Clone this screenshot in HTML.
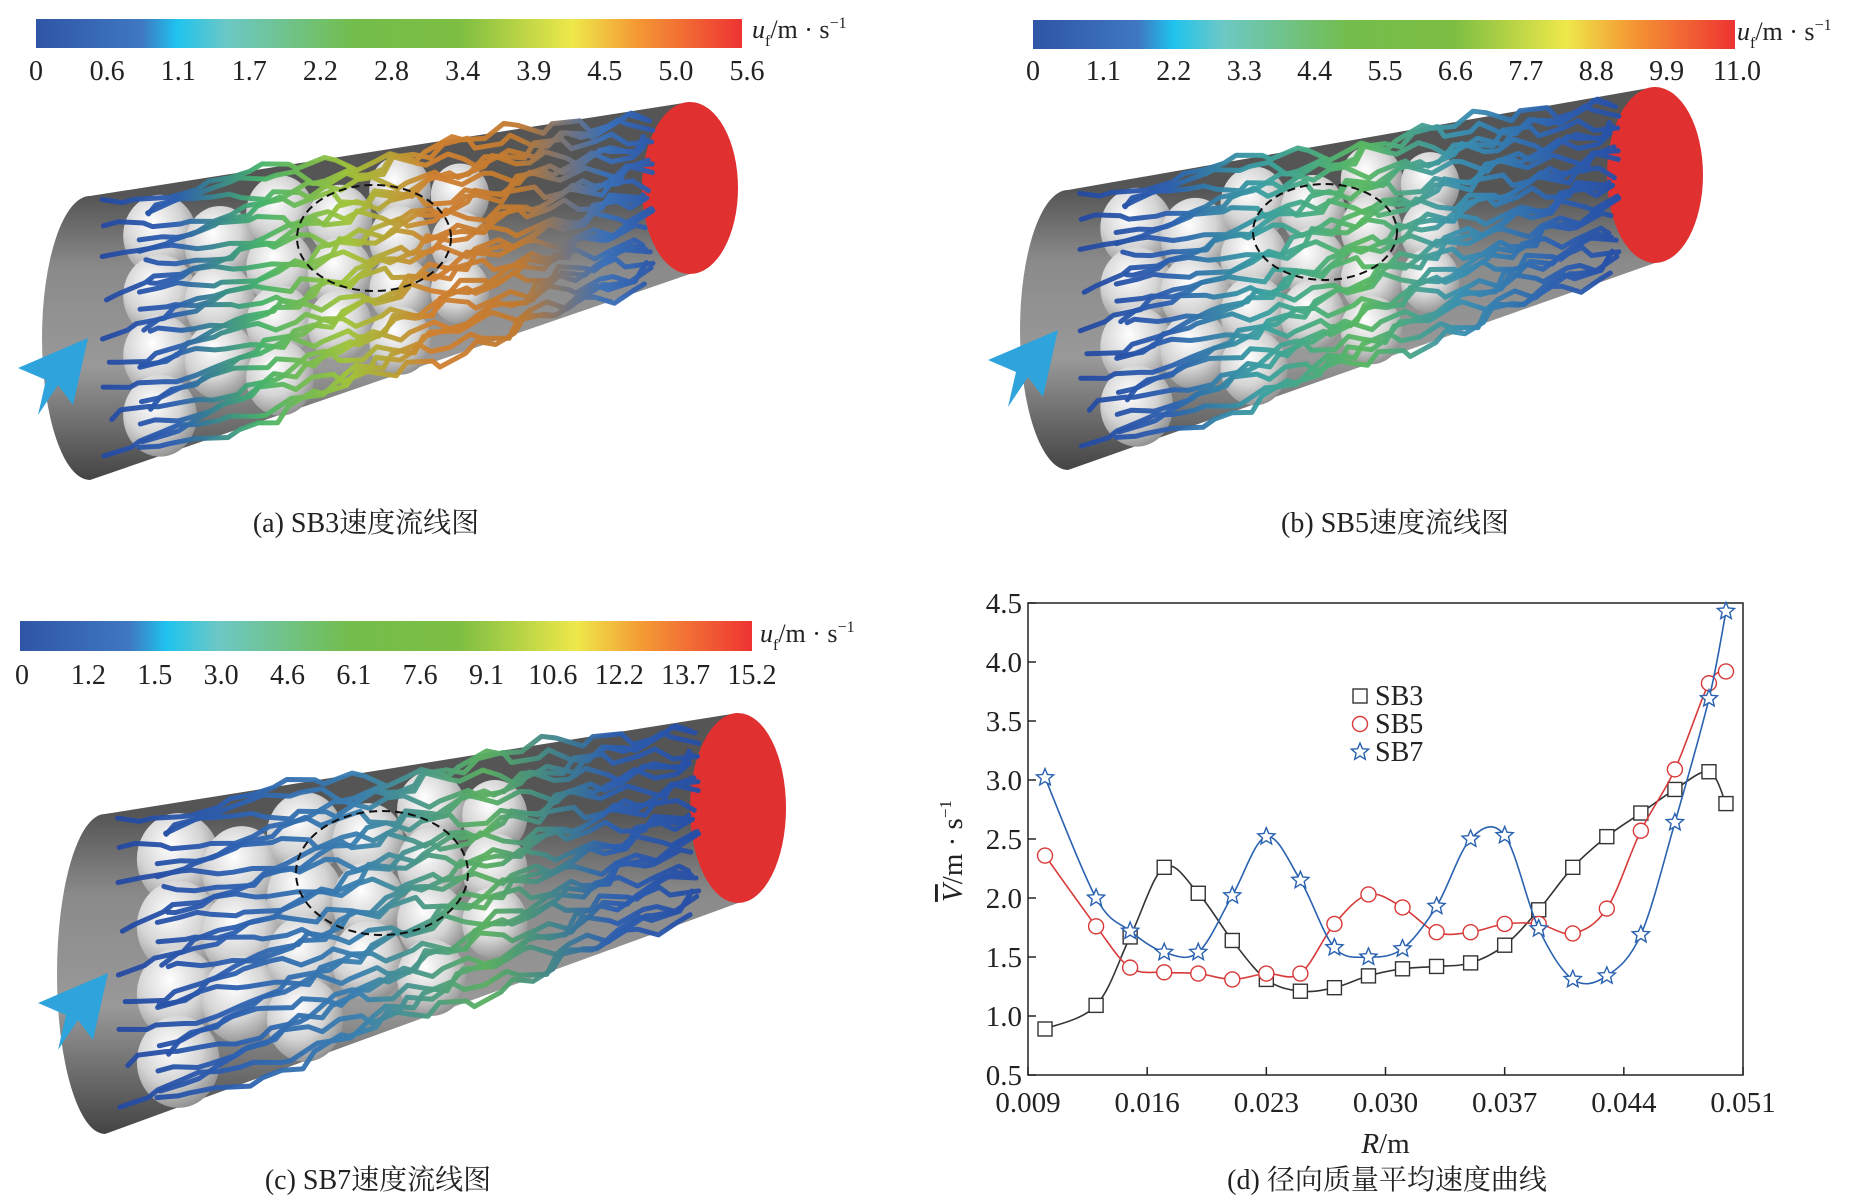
<!DOCTYPE html>
<html><head><meta charset="utf-8">
<style>
html,body{margin:0;padding:0;background:#fff;}
svg{display:block;}
text{font-family:"Liberation Serif","Noto Serif CJK SC","Noto Sans CJK SC",serif;fill:#222;}
</style></head>
<body>
<svg id="fig" width="1862" height="1200" viewBox="0 0 1862 1200" xmlns="http://www.w3.org/2000/svg">
<defs>
<linearGradient id="cbA" x1="0" x2="1" y1="0" y2="0">
<stop offset="0" stop-color="#2f55a6"/><stop offset="0.15" stop-color="#3f78c2"/><stop offset="0.2" stop-color="#1fc3ee"/><stop offset="0.27" stop-color="#6cc8c5"/><stop offset="0.45" stop-color="#73bd4c"/><stop offset="0.6" stop-color="#7dbe42"/><stop offset="0.76" stop-color="#eee84a"/><stop offset="0.85" stop-color="#f49a34"/><stop offset="1" stop-color="#ee3333"/>
</linearGradient>
<radialGradient id="sph" cx="0.4" cy="0.35" r="0.7">
<stop offset="0" stop-color="#ffffff"/><stop offset="0.55" stop-color="#d4d4d4"/><stop offset="1" stop-color="#8a8a8a"/>
</radialGradient>
</defs>

<g>
<rect x="36" y="19" width="706" height="29" fill="url(#cbA)"/>
<text x="752" y="38" font-size="26" font-style="italic">u<tspan font-size="16" dy="8" font-style="normal">f</tspan><tspan dy="-8" font-style="normal">/m · s</tspan><tspan font-size="16" dy="-10" font-style="normal">−1</tspan></text>
</g>
<g>
<rect x="1033" y="20" width="702" height="29" fill="url(#cbA)"/>
<text x="1737" y="40" font-size="26" font-style="italic">u<tspan font-size="16" dy="8" font-style="normal">f</tspan><tspan dy="-8" font-style="normal">/m · s</tspan><tspan font-size="16" dy="-10" font-style="normal">−1</tspan></text>
</g>
<g>
<rect x="20" y="621" width="732" height="30" fill="url(#cbA)"/>
<text x="760" y="642" font-size="26" font-style="italic">u<tspan font-size="16" dy="8" font-style="normal">f</tspan><tspan dy="-8" font-style="normal">/m · s</tspan><tspan font-size="16" dy="-10" font-style="normal">−1</tspan></text>
</g>
<g id="cbLabels"></g>
<g id="cyls"></g>

<text x="366" y="532" font-size="28" text-anchor="middle">(a) SB3速度流线图</text>
<text x="1395" y="532" font-size="28" text-anchor="middle">(b) SB5速度流线图</text>
<text x="378" y="1189" font-size="28" text-anchor="middle">(c) SB7速度流线图</text>
<text x="1387" y="1189" font-size="28" text-anchor="middle">(d) 径向质量平均速度曲线</text>

<g id="chart"></g>
</svg>
<script>
// ---- chart data ----
const radiusValues = [0.010,0.013,0.015,0.017,0.019,0.021,0.023,0.025,0.027,0.029,0.031,0.033,0.035,0.037,0.039,0.041,0.043,0.045,0.047,0.049,0.050];
const sb3Values = [0.89,1.09,1.67,2.26,2.04,1.64,1.31,1.21,1.24,1.34,1.40,1.42,1.45,1.60,1.90,2.26,2.52,2.72,2.92,3.07,2.80];
const sb5Values = [2.36,1.76,1.41,1.37,1.36,1.31,1.36,1.36,1.78,2.03,1.92,1.71,1.71,1.78,1.78,1.70,1.91,2.57,3.09,3.82,3.92];
const sb7Values = [3.02,2.00,1.72,1.54,1.54,2.02,2.52,2.15,1.58,1.50,1.57,1.93,2.50,2.53,1.74,1.31,1.34,1.69,2.64,3.69,4.43];
const xTickLabels = ["0.009","0.016","0.023","0.030","0.037","0.044","0.051"];
const yTickLabels = ["0.5","1.0","1.5","2.0","2.5","3.0","3.5","4.0","4.5"];
const cbLabelsA = ["0","0.6","1.1","1.7","2.2","2.8","3.4","3.9","4.5","5.0","5.6"];
const cbLabelsB = ["0","1.1","2.2","3.3","4.4","5.5","6.6","7.7","8.8","9.9","11.0"];
const cbLabelsC = ["0","1.2","1.5","3.0","4.6","6.1","7.6","9.1","10.6","12.2","13.7","15.2"];

const NS = "http://www.w3.org/2000/svg";
function mk(tag, attrs, parent){const e=document.createElementNS(NS,tag);for(const k in attrs)e.setAttribute(k,attrs[k]);if(parent)parent.appendChild(e);return e;}

const cbg = document.getElementById('cbLabels');
function cbl(labels, x0, x1, y, name){
  labels.forEach((l,i)=>{
    const t = mk('text',{x: x0+(x1-x0)*i/(labels.length-1), y:y, 'font-size':28, 'text-anchor':'middle'}, cbg);
    
    
    t.textContent = l;
  });
}
cbl(cbLabelsA, 36, 747, 80, 'colorbar-a-label');
cbl(cbLabelsB, 1033, 1737, 80, 'colorbar-b-label');
cbl(cbLabelsC, 22, 752, 684, 'colorbar-c-label');

// ---- cylinders (decorative illustrations) ----
const cyls = document.getElementById('cyls');
function cylinder(name, L, R, cols, dash, arrow){
  const g = mk('g',{},cyls);
  
  
  const rx = 48;
  const bg=mk('linearGradient',{id:name+'-body',gradientUnits:'userSpaceOnUse',x1:0,x2:0,y1:L.y-L.ry,y2:L.y+L.ry},g);
  [['0','#555'],['0.25','#8a8a8a'],['0.6','#999'],['1','#444']].forEach(s=>mk('stop',{offset:s[0],'stop-color':s[1]},bg));
  mk('path',{d:`M${R.x},${R.y-R.ry} L${L.x},${L.y-L.ry} A${rx},${L.ry} 0 0 0 ${L.x},${L.y+L.ry} L${R.x},${R.y+R.ry} Z`, fill:`url(#${name}-body)`}, g);
  mk('ellipse',{cx:R.x, cy:R.y, rx:rx, ry:R.ry, fill:'#e03030'}, g);
  const lerp=(a,b,t)=>a+(b-a)*t;
  for(let i=0;i<6;i++){for(let j=0;j<4;j++){
    const t=0.1+i*0.1, s=0.18+j*0.22+((i%2)*0.08);
    if(s>0.9) continue;
    const cx=lerp(L.x,R.x,t)+10, top=lerp(L.y-L.ry,R.y-R.ry,t), bot=lerp(L.y+L.ry,R.y+R.ry,t);
    const r=(bot-top)*0.15;
    mk('ellipse',{cx:cx, cy:lerp(top,bot,s), rx:r*0.9, ry:r, fill:'url(#sph)'}, g);
  }}
  const N=26;
  for(let k=0;k<N;k++){
    const s=(k+0.5)/N;
    let d='';
    const steps=30;
    const t0=0.02+0.08*Math.abs(Math.sin(k*2.1));
    for(let m=0;m<=steps;m++){
      const t=t0+(0.93-t0)*m/steps;
      const x=lerp(L.x,R.x,t)+Math.sin(m*2.7+k)*5;
      const top=lerp(L.y-L.ry,R.y-R.ry,t), bot=lerp(L.y+L.ry,R.y+R.ry,t);
      const y=lerp(top,bot,s+0.03*Math.sin(m*0.5+k*1.7))+Math.sin(m*1.9+k*0.7)*7*(t>0.3?1:0.3);
      d+=(m?'L':'M')+x.toFixed(1)+','+y.toFixed(1);
    }
    const gid=name+'-g'+k;
    const lg=mk('linearGradient',{id:gid,gradientUnits:'userSpaceOnUse',x1:L.x,x2:R.x,y1:0,y2:0},g);
    cols.forEach((c,i)=>mk('stop',{offset:i/(cols.length-1),'stop-color':c},lg));
    mk('path',{d:d, fill:'none', stroke:`url(#${gid})`, 'stroke-width':5, 'stroke-linecap':'round','stroke-linejoin':'round', opacity:0.95}, g);
  }
  mk('ellipse',{cx:dash.x, cy:dash.y, rx:dash.rx, ry:dash.ry, fill:'none', stroke:'#111', 'stroke-width':2, 'stroke-dasharray':'8,5'}, g);
  const a=mk('path',{d:`M${arrow.x},${arrow.y+8} L${arrow.x+70},${arrow.y-22} L${arrow.x+55},${arrow.y+45} L${arrow.x+40},${arrow.y+25} L${arrow.x+20},${arrow.y+55} L${arrow.x+28},${arrow.y+20} Z`, fill:'#2ea3dc'}, g);
  
  
}
cylinder('streamline-sb3', {x:90,y:338,ry:142}, {x:690,y:188,ry:86}, ['#2346a0','#2d5fb0','#46b36a','#a0c43a','#d08030','#c07a30','#3a70b8','#2346a0'], {x:374,y:238,rx:77,ry:53}, {x:18,y:360});
cylinder('streamline-sb5', {x:1068,y:330,ry:140}, {x:1655,y:175,ry:88}, ['#2346a0','#2d5fb0','#3aa0a0','#58b860','#3a90b0','#2d5fb0','#2346a0'], {x:1325,y:232,rx:72,ry:48}, {x:988,y:352});
cylinder('streamline-sb7', {x:105,y:974,ry:160}, {x:738,y:808,ry:95}, ['#2346a0','#2d5fb0','#3a80b0','#5ab060','#2d5fb0','#2346a0'], {x:382,y:873,rx:86,ry:62}, {x:38,y:995});

// ---- line chart ----
const chart = document.getElementById('chart');
const PL=1028, PR=1743, PT=603, PB=1075;
const xMin=0.009, xMax=0.051, yMin=0.5, yMax=4.5;
const xS=v=>PL+(v-xMin)/(xMax-xMin)*(PR-PL);
const yS=v=>PB-(v-yMin)/(yMax-yMin)*(PB-PT);
const frame=mk('rect',{x:PL,y:PT,width:PR-PL,height:PB-PT,fill:'none',stroke:'#222','stroke-width':1.5},chart);


xTickLabels.forEach(l=>{
  const x=xS(parseFloat(l));
  const tk=mk('line',{x1:x,x2:x,y1:PB,y2:PB-8,stroke:'#222','stroke-width':1.5},chart);
  
  
  const t=mk('text',{x:x,y:PB+37,'font-size':29,'text-anchor':'middle'},chart);
  
  
  t.textContent=l;
});
yTickLabels.forEach(l=>{
  const y=yS(parseFloat(l));
  const tk=mk('line',{x1:PL,x2:PL+8,y1:y,y2:y,stroke:'#222','stroke-width':1.5},chart);
  
  
  const t=mk('text',{x:PL-6,y:y+10,'font-size':29,'text-anchor':'end'},chart);
  
  
  t.textContent=l;
});
const xt=mk('text',{x:(PL+PR)/2,y:1153,'font-size':29,'text-anchor':'middle'},chart);


xt.innerHTML='<tspan font-style="italic">R</tspan>/m';
const yt=mk('text',{x:0,y:0,'font-size':29,'text-anchor':'middle',transform:`translate(962,${(PT+PB)/2+12}) rotate(-90)`},chart);


yt.innerHTML='<tspan font-style="italic" text-decoration="overline">V</tspan>/m · s<tspan font-size="17" dy="-11">−1</tspan>';

function spline(xs, ys){
  const p=xs.map((x,i)=>[xS(x),yS(ys[i])]);
  let d=`M${p[0][0]},${p[0][1]}`;
  for(let i=0;i<p.length-1;i++){
    const p0=p[i-1]||p[i], p1=p[i], p2=p[i+1], p3=p[i+2]||p[i+1];
    const c1=[p1[0]+(p2[0]-p0[0])/6, p1[1]+(p2[1]-p0[1])/6];
    const c2=[p2[0]-(p3[0]-p1[0])/6, p2[1]-(p3[1]-p1[1])/6];
    d+=`C${c1[0].toFixed(1)},${c1[1].toFixed(1)} ${c2[0].toFixed(1)},${c2[1].toFixed(1)} ${p2[0].toFixed(1)},${p2[1].toFixed(1)}`;
  }
  return d;
}
function star(cx,cy,r){
  let d='';
  for(let i=0;i<10;i++){const a=-Math.PI/2+i*Math.PI/5, rr=i%2?r*0.45:r;d+=(i?'L':'M')+(cx+rr*Math.cos(a)).toFixed(1)+','+(cy+rr*Math.sin(a)).toFixed(1);}
  return d+'Z';
}
function marker(g,kind,x,y,color){
  if(kind==='sq') return mk('rect',{x:x-7,y:y-7,width:14,height:14,fill:'#fff',stroke:color,'stroke-width':1.4},g);
  if(kind==='ci') return mk('circle',{cx:x,cy:y,r:7.5,fill:'#fff',stroke:color,'stroke-width':1.4},g);
  return mk('path',{d:star(x,y,9),fill:'#fff',stroke:color,'stroke-width':1.4},g);
}
const series=[['sb3',sb3Values,'#333333','sq'],['sb5',sb5Values,'#d83a3a','ci'],['sb7',sb7Values,'#2a62b0','st']];
series.forEach(([nm,vals,col,kind])=>{
  const g=mk('g',{},chart);
  
  
  const ln=mk('path',{d:spline(radiusValues,vals),fill:'none',stroke:col,'stroke-width':1.6},g);
  
  
  radiusValues.forEach((x,i)=>{
    const m=marker(g,kind,xS(x),yS(vals[i]),col);
    
    
  });
});
const lg=mk('g',{},chart);


series.forEach(([nm,vals,col,kind],i)=>{
  const y=696+i*28;
  const e=mk('g',{},lg);
  
  
  marker(e,kind,1360,y,col);
  const t=mk('text',{x:1375,y:y+9,'font-size':28},e);
  t.textContent=nm.toUpperCase();
});
</script>
</body></html>
